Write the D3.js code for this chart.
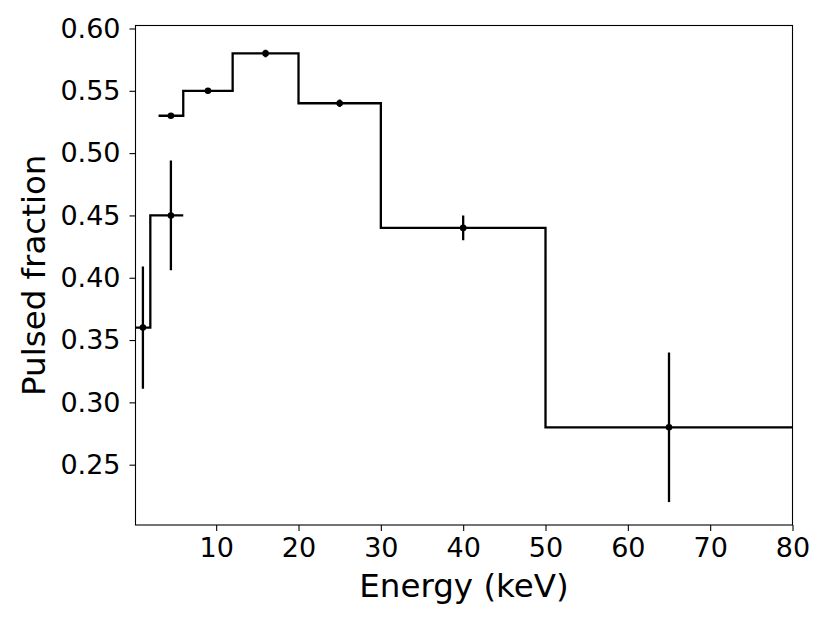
<!DOCTYPE html>
<html><head><meta charset="utf-8">
<script src="https://cdn.jsdelivr.net/npm/d3@7"></script>
<style>html,body{margin:0;padding:0;background:#fff;} svg{display:block;font-family:"DejaVu Sans",sans-serif;}</style>
</head><body>
<svg id="c" width="830" height="622"></svg>
<script>
// ---- data ----
const binEdgesLow = [0.2, 2, 6];
const pfLow = [0.36, 0.45];
const xLow = [1.1, 4.5];
const errLow = [0.049, 0.044];

const binEdgesHigh = [3, 6, 12, 20, 30, 50, 80];
const pfHigh = [0.53, 0.55, 0.58, 0.54, 0.44, 0.28];
const xHigh = [4.5, 9, 16, 25, 40, 65];
const errHigh = [0.002, 0.002, 0.003, 0.003, 0.01, 0.06];

const xTicks = [10, 20, 30, 40, 50, 60, 70, 80];
const yTicks = [0.25, 0.30, 0.35, 0.40, 0.45, 0.50, 0.55, 0.60];
const xLabel = "Energy (keV)";
const yLabel = "Pulsed fraction";

// ---- layout ----
const L = 135.5, R = 792.5, T = 25.5, B = 525;
const svg = d3.select("#c");
const x = d3.scaleLinear().domain([0.2, 80]).range([L, R]);
const y = d3.scaleLinear().domain([0.2016, 0.6024]).range([B, T]);

svg.append("defs").append("clipPath").attr("id","clip")
  .append("rect").attr("x", L).attr("y", T).attr("width", R-L).attr("height", B-T);

const g = svg.append("g").attr("clip-path","url(#clip)");

function stepPts(edges, vals){
  const pts = edges.slice(0, -1).map((e,i)=>[e, vals[i]]);
  pts.push([edges[edges.length-1], vals[vals.length-1]]);
  return pts;
}
const line = d3.line().x(d=>x(d[0])).y(d=>y(d[1])).curve(d3.curveStepAfter);

[[binEdgesLow, pfLow], [binEdgesHigh, pfHigh]].forEach(([e,v])=>{
  g.append("path").attr("d", line(stepPts(e,v)))
    .attr("fill","none").attr("stroke","#000").attr("stroke-width",2.3)
    .attr("stroke-linejoin","miter").attr("stroke-linecap","butt");
});

const pts = xLow.map((xv,i)=>({x:xv, y:pfLow[i], e:errLow[i]}))
  .concat(xHigh.map((xv,i)=>({x:xv, y:pfHigh[i], e:errHigh[i]})));

g.selectAll("line.err").data(pts).join("line").attr("class","err")
  .attr("x1", d=>x(d.x)).attr("x2", d=>x(d.x))
  .attr("y1", d=>y(d.y-d.e)).attr("y2", d=>y(d.y+d.e))
  .attr("stroke","#000").attr("stroke-width",2.3);

g.selectAll("circle.pt").data(pts).join("circle").attr("class","pt")
  .attr("cx", d=>x(d.x)).attr("cy", d=>y(d.y)).attr("r", 3.3).attr("fill","#000");

// ---- axes ----
const xAxis = d3.axisBottom(x).tickValues(xTicks).tickFormat(d3.format("d")).tickSize(6).tickPadding(7);
const yAxis = d3.axisLeft(y).tickValues(yTicks).tickFormat(d3.format(".2f")).tickSize(6).tickPadding(9);

const gx = svg.append("g").attr("transform", `translate(0,${B})`).call(xAxis);
const gy = svg.append("g").attr("transform", `translate(${L},0)`).call(yAxis);
[gx, gy].forEach(a=>{
  a.select(".domain").remove();
  a.selectAll(".tick line").attr("stroke","#000").attr("stroke-width",1.1);
  a.selectAll(".tick text").attr("fill","#000").attr("font-size",27)
    .attr("font-family","DejaVu Sans");
});

svg.append("rect").attr("x",L).attr("y",T).attr("width",R-L).attr("height",B-T)
  .attr("fill","none").attr("stroke","#000").attr("stroke-width",1.1);

svg.append("text").attr("x",(L+R)/2).attr("y",597).attr("text-anchor","middle")
  .attr("font-size",32.5).attr("fill","#000").text(xLabel);
svg.append("text").attr("transform",`translate(45,${(T+B)/2}) rotate(-90)`)
  .attr("text-anchor","middle").attr("font-size",32.5).attr("fill","#000").text(yLabel);
</script>
</body></html>
